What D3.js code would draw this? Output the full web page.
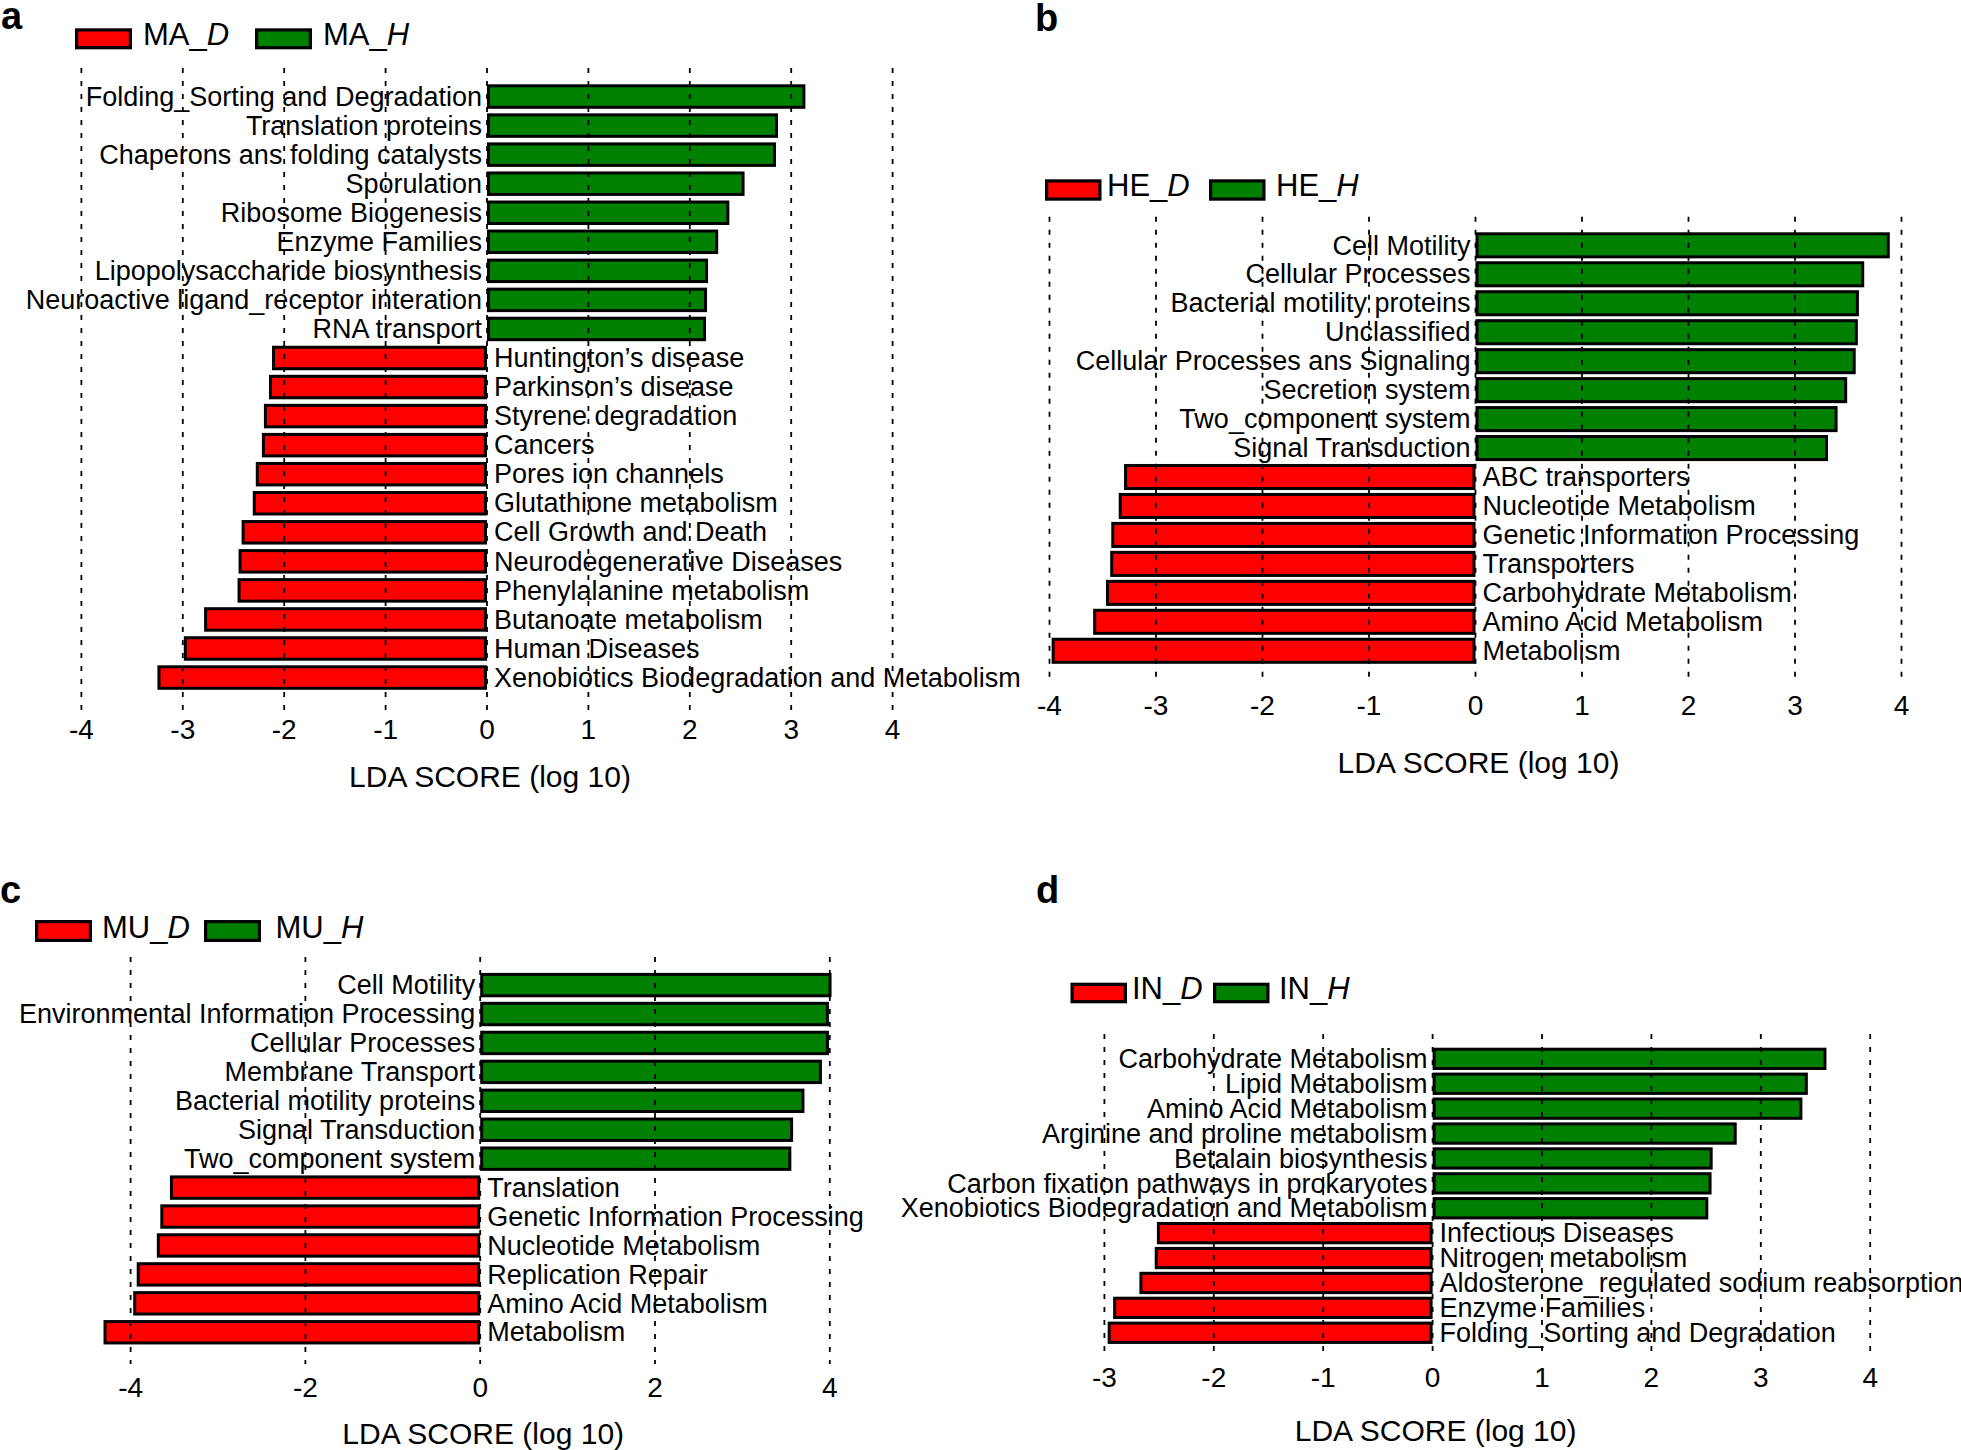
<!DOCTYPE html>
<html>
<head>
<meta charset="utf-8">
<script src="https://cdn.jsdelivr.net/npm/d3@7"></script>
<style>
  body { margin: 0; background: #fff; }
  text { font-family: "Liberation Sans", Arial, sans-serif; fill: #000; }
</style>
</head>
<body>
<svg id="chart" width="1961" height="1450"></svg>
<script>
// a: MA
const maHealthy = ["Folding_Sorting and Degradation", "Translation proteins", "Chaperons ans folding catalysts",
    "Sporulation", "Ribosome Biogenesis", "Enzyme Families", "Lipopolysaccharide biosynthesis",
    "Neuroactive ligand_receptor interation", "RNA transport"]
const maHealthyLDA = [3.14, 2.87, 2.85, 2.54, 2.39, 2.28, 2.18, 2.17, 2.16]
const maDisease = ["Huntington’s disease", "Parkinson’s disease", "Styrene degradation", "Cancers",
    "Pores ion channels", "Glutathione metabolism", "Cell Growth and Death", "Neurodegenerative Diseases",
    "Phenylalanine metabolism", "Butanoate metabolism", "Human Diseases", "Xenobiotics Biodegradation and Metabolism"]
const maDiseaseLDA = [-2.12, -2.15, -2.20, -2.22, -2.28, -2.31, -2.42, -2.45, -2.46, -2.79, -2.99, -3.25]

// b: HE
const heHealthy = ["Cell Motility", "Cellular Processes", "Bacterial motility proteins", "Unclassified",
    "Cellular Processes ans Signaling", "Secretion system", "Two_component system", "Signal Transduction"]
const heHealthyLDA = [3.89, 3.65, 3.60, 3.59, 3.57, 3.49, 3.40, 3.31]
const heDisease = ["ABC transporters", "Nucleotide Metabolism", "Genetic Information Processing", "Transporters",
    "Carbohydrate Metabolism", "Amino Acid Metabolism", "Metabolism"]
const heDiseaseLDA = [-3.30, -3.35, -3.42, -3.43, -3.47, -3.59, -3.98]

// c: MU
const muHealthy = ["Cell Motility", "Environmental Information Processing", "Cellular Processes",
    "Membrane Transport", "Bacterial motility proteins", "Signal Transduction", "Two_component system"]
const muHealthyLDA = [4.02, 3.99, 3.99, 3.91, 3.71, 3.58, 3.56]
const muDisease = ["Translation", "Genetic Information Processing", "Nucleotide Metabolism",
    "Replication Repair", "Amino Acid Metabolism", "Metabolism"]
const muDiseaseLDA = [-3.55, -3.66, -3.70, -3.93, -3.97, -4.31]

// d: IN
const inHealthy = ["Carbohydrate Metabolism", "Lipid Metabolism", "Amino Acid Metabolism",
    "Arginine and proline metabolism", "Betalain biosynthesis", "Carbon fixation pathways in prokaryotes",
    "Xenobiotics Biodegradation and Metabolism"]
const inHealthyLDA = [3.60, 3.43, 3.38, 2.78, 2.56, 2.55, 2.52]
const inDisease = ["Infectious Diseases", "Nitrogen metabolism", "Aldosterone_regulated sodium reabsorption",
    "Enzyme Families", "Folding_Sorting and Degradation"]
const inDiseaseLDA = [-2.52, -2.54, -2.68, -2.92, -2.97]

const ticksA = [-4, -3, -2, -1, 0, 1, 2, 3, 4]
const ticksB = [-4, -3, -2, -1, 0, 1, 2, 3, 4]
const ticksC = [-4, -2, 0, 2, 4]
const ticksD = [-3, -2, -1, 0, 1, 2, 3, 4]

const RED = "#ff0000"
const GREEN = "#008000"
const svg = d3.select("#chart")

svg.append("rect").attr("width", 1961).attr("height", 1450).attr("fill", "#fff")

function drawPanel(p) {
    const g = svg.append("g")
    const rows = p.healthy.map((n, i) => ({ name: n, v: p.healthyLDA[i], group: "H" }))
        .concat(p.disease.map((n, i) => ({ name: n, v: p.diseaseLDA[i], group: "D" })))

    const x = d3.scaleLinear().domain(p.domain).range(p.xRange)
    const y = d3.scaleBand()
        .domain(rows.map((d, i) => i))
        .range([p.top - p.step * p.pad / 2, p.top - p.step * p.pad / 2 + rows.length * p.step])
        .paddingInner(p.pad)
        .paddingOuter(p.pad / 2)
    const sw = 3

    // 面板字母
    g.append("text")
        .attr("x", p.letter[0]).attr("y", p.letter[1])
        .attr("font-size", 38).attr("font-weight", "bold")
        .text(p.letterText)

    // 图例
    const lg = [{ c: RED, s: "D", rx: p.legend.rx[0], tx: p.legend.tx[0] },
                { c: GREEN, s: "H", rx: p.legend.rx[1], tx: p.legend.tx[1] }]
    lg.forEach(l => {
        g.append("rect")
            .attr("x", l.rx + 1.6).attr("y", p.legend.y + 1.6)
            .attr("width", p.legend.w - 3.2).attr("height", p.legend.h - 3.2)
            .attr("fill", l.c).attr("stroke", "#000").attr("stroke-width", 3.2)
        const t = g.append("text")
            .attr("x", l.tx).attr("y", p.legend.y + p.legend.h - 4.5)
            .attr("font-size", 31)
        t.append("tspan").text(p.prefix + "_")
        t.append("tspan").attr("font-style", "italic").text(l.s)
    })

    // 柱子
    g.selectAll("rect.bar")
        .data(rows)
        .enter()
        .append("rect")
        .attr("class", "bar")
        .attr("x", d => Math.min(x(0), x(d.v)) + sw / 2)
        .attr("y", (d, i) => y(i) + sw / 2)
        .attr("width", d => Math.abs(x(d.v) - x(0)) - sw)
        .attr("height", y.bandwidth() - sw)
        .attr("fill", d => d.group === "H" ? GREEN : RED)
        .attr("stroke", "#000")
        .attr("stroke-width", sw)

    // 分类标签
    g.selectAll("text.lab")
        .data(rows)
        .enter()
        .append("text")
        .attr("class", "lab")
        .attr("x", d => d.group === "H" ? x(0) - 5 : x(0) + 7)
        .attr("y", (d, i) => y(i) + y.bandwidth() / 2 + 9.2)
        .attr("text-anchor", d => d.group === "H" ? "end" : "start")
        .attr("font-size", 27)
        .text(d => d.name)

    // 虚线网格（在柱子上面）
    g.selectAll("line.grid")
        .data(p.ticks)
        .enter()
        .append("line")
        .attr("x1", d => x(d)).attr("x2", d => x(d))
        .attr("y1", p.gridY[0]).attr("y2", p.gridY[1])
        .attr("stroke", "#000")
        .attr("stroke-width", 1.8)
        .attr("stroke-dasharray", "5,8")

    // x 轴刻度标签
    g.selectAll("text.tick")
        .data(p.ticks)
        .enter()
        .append("text")
        .attr("class", "tick")
        .attr("x", d => x(d))
        .attr("y", p.tickY)
        .attr("text-anchor", "middle")
        .attr("font-size", 28)
        .text(d => d)

    g.append("text")
        .attr("x", x(0) + 3).attr("y", p.titleY)
        .attr("text-anchor", "middle")
        .attr("font-size", 30)
        .text("LDA SCORE (log 10)")
}

drawPanel({
    letterText: "a", letter: [1, 28.5], prefix: "MA",
    healthy: maHealthy, healthyLDA: maHealthyLDA, disease: maDisease, diseaseLDA: maDiseaseLDA,
    ticks: ticksA, domain: [-4, 4], xRange: [81.4, 892.6],
    top: 84.3, step: 29.05, pad: 0.157,
    gridY: [68, 710], tickY: 739, titleY: 787,
    legend: { y: 28.3, w: 57, h: 21, rx: [75, 255], tx: [143, 323] }
})

drawPanel({
    letterText: "b", letter: [1035, 31], prefix: "HE",
    healthy: heHealthy, healthyLDA: heHealthyLDA, disease: heDisease, diseaseLDA: heDiseaseLDA,
    ticks: ticksB, domain: [-4, 4], xRange: [1049.5, 1901.5],
    top: 232.3, step: 28.96, pad: 0.1,
    gridY: [216.7, 681.7], tickY: 715, titleY: 773,
    legend: { y: 179.3, w: 56.5, h: 21.4, rx: [1045, 1209], tx: [1107, 1276] }
})

drawPanel({
    letterText: "c", letter: [0, 903], prefix: "MU",
    healthy: muHealthy, healthyLDA: muHealthyLDA, disease: muDisease, diseaseLDA: muDiseaseLDA,
    ticks: ticksC, domain: [-4, 4], xRange: [130.6, 829.8],
    top: 972.9, step: 28.93, pad: 0.157,
    gridY: [957, 1364], tickY: 1396.7, titleY: 1444,
    legend: { y: 920, w: 57, h: 22, rx: [35, 204], tx: [102, 275.5] }
})

drawPanel({
    letterText: "d", letter: [1036, 903], prefix: "IN",
    healthy: inHealthy, healthyLDA: inHealthyLDA, disease: inDisease, diseaseLDA: inDiseaseLDA,
    ticks: ticksD, domain: [-3, 4], xRange: [1104.4, 1870.2],
    top: 1047.7, step: 24.9, pad: 0.104,
    gridY: [1034, 1358], tickY: 1387, titleY: 1441,
    legend: { y: 982.7, w: 56.5, h: 20.6, rx: [1070.5, 1213], tx: [1132, 1279] }
})
</script>
</body>
</html>
